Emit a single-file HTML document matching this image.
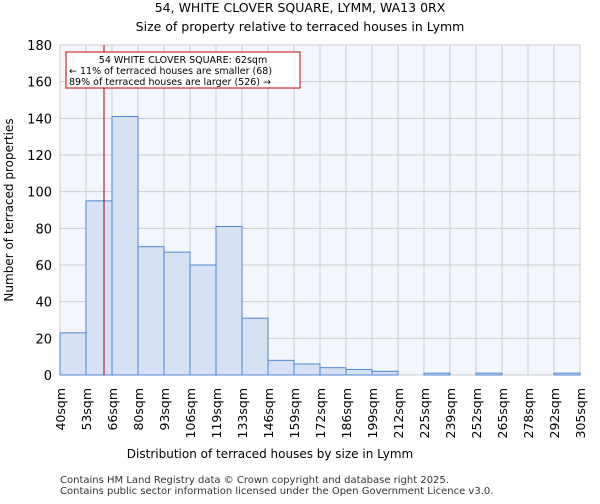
<!DOCTYPE html>
<html><head><meta charset="utf-8"><style>
body{margin:0;background:#fff;font-family:"DejaVu Sans","Liberation Sans",sans-serif}
</style></head><body>
<svg id="c" width="600" height="500" xmlns="http://www.w3.org/2000/svg" font-family="DejaVu Sans, Liberation Sans, sans-serif">
<text x="300" y="12" text-anchor="middle" font-size="12.5">54, WHITE CLOVER SQUARE, LYMM, WA13 0RX</text>
<text x="300" y="31" text-anchor="middle" font-size="12.5">Size of property relative to terraced houses in Lymm</text>
<g id="plot"></g>
<text x="270" y="458" text-anchor="middle" font-size="12">Distribution of terraced houses by size in Lymm</text>
<text transform="translate(13,210) rotate(-90)" text-anchor="middle" font-size="12">Number of terraced properties</text>
<text x="60" y="483" font-size="10" fill="#333">Contains HM Land Registry data © Crown copyright and database right 2025.</text>
<text x="60" y="494" font-size="10" fill="#333">Contains public sector information licensed under the Open Government Licence v3.0.</text>
</svg>
<script>
const edgeLabels=["40sqm","53sqm","66sqm","80sqm","93sqm","106sqm","119sqm","133sqm","146sqm","159sqm","172sqm","186sqm","199sqm","212sqm","225sqm","239sqm","252sqm","265sqm","278sqm","292sqm","305sqm"];
const counts=[23,95,141,70,67,60,81,31,8,6,4,3,2,0,1,0,1,0,0,1];
const yTicks=[0,20,40,60,80,100,120,140,160,180];
const subjectSize=62;
const edgeValues=[40,53,66,80,93,106,119,133,146,159,172,186,199,212,225,239,252,265,278,292,305];
const NS="http://www.w3.org/2000/svg";
const L=60,R=580,T=45,B=375,YMAX=180;
const bw=(R-L)/counts.length;
const xb=i=>L+i*bw;
const y=v=>B-(v/YMAX)*(B-T);
const g=document.getElementById('plot');
function mk(t,a){const e=document.createElementNS(NS,t);for(const k in a)e.setAttribute(k,a[k]);g.appendChild(e);return e;}
let e=mk('rect',{x:L,y:T,width:R-L,height:B-T,fill:'#f3f6fd'});


yTicks.forEach(t=>{
 let l=mk('line',{x1:L,x2:R,y1:y(t),y2:y(t),stroke:'#ccc','stroke-width':1});
 
 
 let tx=mk('text',{x:L-8,y:y(t)+5,'text-anchor':'end','font-size':13});
 tx.textContent=t;
 
 
});
edgeLabels.forEach((s,i)=>{
 let l=mk('line',{x1:xb(i),x2:xb(i),y1:T,y2:B,stroke:'#ccc','stroke-width':1});
 
 
 let tx=mk('text',{transform:`translate(${xb(i)+5},${B+13}) rotate(-90)`,'text-anchor':'end','font-size':12.5});
 tx.textContent=s;
 
 
});
counts.forEach((c,i)=>{
 let r=mk('rect',{x:xb(i),y:y(c),width:bw,height:B-y(c),fill:'#d6e1f4',stroke:'#4f86d4','stroke-width':1});
 
 
});
let bi=edgeValues.findIndex((v,i)=>subjectSize>=v&&subjectSize<edgeValues[i+1]);
let sx=xb(bi)+bw*(subjectSize-edgeValues[bi])/(edgeValues[bi+1]-edgeValues[bi]);
let ml=mk('line',{x1:sx,x2:sx,y1:T,y2:B,stroke:'#a00','stroke-width':1});


let bx=mk('rect',{x:66,y:52,width:234,height:36,fill:'#fff',stroke:'#c00','stroke-width':1});


["54 WHITE CLOVER SQUARE: 62sqm","← 11% of terraced houses are smaller (68)","89% of terraced houses are larger (526) →"].forEach((s,i)=>{
 let t=mk('text',{x:i==0?183:69,y:63+i*11,'text-anchor':i==0?'middle':'start','font-size':9.5});
 t.textContent=s;
 
 
});
</script>
</body></html>
